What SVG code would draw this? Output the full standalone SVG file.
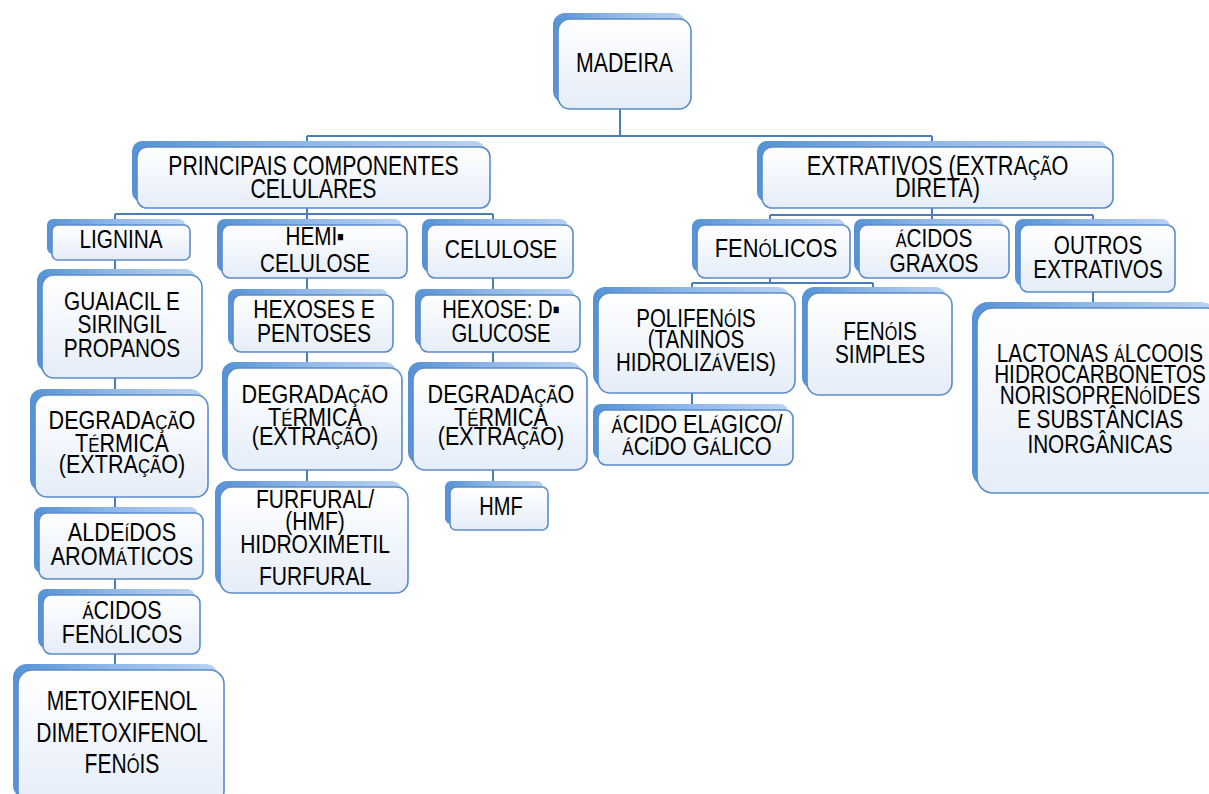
<svg xmlns="http://www.w3.org/2000/svg" width="1209" height="794" viewBox="0 0 1209 794">
<defs>
<linearGradient id="gb" x1="0" y1="0" x2="0" y2="1"><stop offset="0" stop-color="#ffffff"/><stop offset="1" stop-color="#e5edf9"/></linearGradient>
<linearGradient id="gs" x1="0" y1="0" x2="1" y2="0"><stop offset="0" stop-color="#5592d6"/><stop offset="0.45" stop-color="#8db6e8"/><stop offset="1" stop-color="#b8d2f1"/></linearGradient>
<style>
.sh{fill:url(#gs)}
.bx{fill:url(#gb);stroke:#5b8cc8;stroke-width:1.6}
text{font-family:"Liberation Sans",Arial,sans-serif;fill:#000;text-anchor:middle}
.f28 text{font-size:28px}
.f26 text{font-size:26px}
.f25 text{font-size:25px}
.sc{font-size:78%}
</style>
</defs>
<rect width="1209" height="794" fill="#ffffff"/>
<g id="connectors" fill="none" stroke="#4a7ebb" stroke-width="2">
<path d="M620 109V136M307 136H932M307 136V147M932 136V147"/>
<path d="M307 208V214M115 214H493M115 214V670M307 214V487M493 214V487"/>
<path d="M932 208V225M770 215H1093M770 215V283M1093 215V308"/>
<path d="M692 283H873M692 283V410M873 283V293"/>
</g>
<g id="n-madeira" class="f28">
<rect class="sh" x="553" y="13" width="133" height="90" rx="12"/>
<rect class="bx" x="558" y="19" width="133" height="90" rx="12"/>
<g transform="translate(624.5,0) scale(0.76,1)"><text x="0" y="72">MADEIRA</text></g>
</g>
<g id="n-principais" class="f28">
<rect class="sh" x="132" y="141" width="353" height="61" rx="10"/>
<rect class="bx" x="137" y="147" width="353" height="61" rx="10"/>
<g transform="translate(313.5,0) scale(0.757,1)">
<text x="0" y="175">PRINCIPAIS COMPONENTES</text>
<text x="0" y="198">CELULARES</text>
</g>
</g>
<g id="n-extrativos" class="f28">
<rect class="sh" x="757" y="141" width="351" height="61" rx="10"/>
<rect class="bx" x="762" y="147" width="351" height="61" rx="10"/>
<g transform="translate(937.5,0) scale(0.775,1)">
<text x="0" y="175">EXTRATIVOS (EXTRA<tspan class="sc">ÇÃ</tspan>O</text>
<text x="0" y="197">DIRETA)</text>
</g>
</g>
<g id="n-lignina" class="f26">
<rect class="sh" x="47" y="219" width="138" height="35" rx="6"/>
<rect class="bx" x="52" y="225" width="138" height="35" rx="6"/>
<g transform="translate(121,0) scale(0.8,1)"><text x="0" y="248">LIGNINA</text></g>
</g>
<g id="n-hemicelulose" class="f25">
<rect class="sh" x="217" y="219" width="185" height="53" rx="8"/>
<rect class="bx" x="222" y="225" width="185" height="53" rx="8"/>
<g transform="translate(315,0) scale(0.825,1)">
<text x="0" y="245">HEMI▪</text>
<text x="0" y="272">CELULOSE</text>
</g>
</g>
<g id="n-celulose" class="f26">
<rect class="sh" x="422" y="219" width="146" height="53" rx="8"/>
<rect class="bx" x="427" y="225" width="146" height="53" rx="8"/>
<g transform="translate(501,0) scale(0.81,1)"><text x="0" y="258">CELULOSE</text></g>
</g>
<g id="n-guaiacil" class="f26">
<rect class="sh" x="37" y="269" width="160" height="103" rx="12"/>
<rect class="bx" x="42" y="275" width="160" height="103" rx="12"/>
<g transform="translate(122,0) scale(0.8,1)">
<text x="0" y="310">GUAIACIL E</text>
<text x="0" y="333">SIRINGIL</text>
<text x="0" y="357">PROPANOS</text>
</g>
</g>
<g id="n-hexoses" class="f26">
<rect class="sh" x="228" y="289" width="160" height="57" rx="8"/>
<rect class="bx" x="233" y="295" width="160" height="57" rx="8"/>
<g transform="translate(314,0) scale(0.81,1)">
<text x="0" y="318">HEXOSES E</text>
<text x="0" y="342">PENTOSES</text>
</g>
</g>
<g id="n-hexose" class="f26">
<rect class="sh" x="415" y="289" width="160" height="57" rx="8"/>
<rect class="bx" x="420" y="295" width="160" height="57" rx="8"/>
<g transform="translate(501,0) scale(0.78,1)">
<text x="0" y="318">HEXOSE: D▪</text>
<text x="0" y="342">GLUCOSE</text>
</g>
</g>
<g id="n-degradacao-lignina" class="f26">
<rect class="sh" x="30" y="389" width="173" height="102" rx="12"/>
<rect class="bx" x="35" y="395" width="173" height="102" rx="12"/>
<g transform="translate(122,0) scale(0.83,1)">
<text x="0" y="429">DEGRADA<tspan class="sc">ÇÃ</tspan>O</text>
<text x="0" y="452">T<tspan class="sc">É</tspan>RMICA</text>
<text x="0" y="473">(EXTRA<tspan class="sc">ÇÃ</tspan>O)</text>
</g>
</g>
<g id="n-degradacao-hemi" class="f26">
<rect class="sh" x="222" y="362" width="175" height="102" rx="12"/>
<rect class="bx" x="227" y="368" width="175" height="102" rx="12"/>
<g transform="translate(315,0) scale(0.83,1)">
<text x="0" y="403">DEGRADA<tspan class="sc">ÇÃ</tspan>O</text>
<text x="0" y="426">T<tspan class="sc">É</tspan>RMICA</text>
<text x="0" y="445">(EXTRA<tspan class="sc">ÇÃ</tspan>O)</text>
</g>
</g>
<g id="n-degradacao-celulose" class="f26">
<rect class="sh" x="408" y="362" width="174" height="102" rx="12"/>
<rect class="bx" x="413" y="368" width="174" height="102" rx="12"/>
<g transform="translate(501,0) scale(0.83,1)">
<text x="0" y="403">DEGRADA<tspan class="sc">ÇÃ</tspan>O</text>
<text x="0" y="426">T<tspan class="sc">É</tspan>RMICA</text>
<text x="0" y="445">(EXTRA<tspan class="sc">ÇÃ</tspan>O)</text>
</g>
</g>
<g id="n-furfural" class="f26">
<rect class="sh" x="215" y="481" width="188" height="106" rx="12"/>
<rect class="bx" x="220" y="487" width="188" height="106" rx="12"/>
<g transform="translate(315,0) scale(0.81,1)">
<text x="0" y="508">FURFURAL/</text>
<text x="0" y="530">(HMF)</text>
<text x="0" y="553">HIDROXIMETIL</text>
<text x="0" y="585">FURFURAL</text>
</g>
</g>
<g id="n-hmf" class="f26">
<rect class="sh" x="445" y="481" width="98" height="43" rx="6"/>
<rect class="bx" x="450" y="487" width="98" height="43" rx="6"/>
<g transform="translate(501,0) scale(0.77,1)"><text x="0" y="515">HMF</text></g>
</g>
<g id="n-aldeidos" class="f26">
<rect class="sh" x="34" y="507" width="164" height="66" rx="8"/>
<rect class="bx" x="39" y="513" width="164" height="66" rx="8"/>
<g transform="translate(122,0) scale(0.835,1)">
<text x="0" y="541">ALDE<tspan class="sc">Í</tspan>DOS</text>
<text x="0" y="565">AROM<tspan class="sc">Á</tspan>TICOS</text>
</g>
</g>
<g id="n-acidos-fenolicos" class="f25">
<rect class="sh" x="38" y="589" width="157" height="59" rx="8"/>
<rect class="bx" x="43" y="595" width="157" height="59" rx="8"/>
<g transform="translate(122,0) scale(0.86,1)">
<text x="0" y="619"><tspan class="sc">Á</tspan>CIDOS</text>
<text x="0" y="643">FEN<tspan class="sc">Ó</tspan>LICOS</text>
</g>
</g>
<g id="n-metoxifenol" class="f28">
<rect class="sh" x="13" y="664" width="206" height="135" rx="14"/>
<rect class="bx" x="18" y="670" width="206" height="135" rx="14"/>
<g transform="translate(122,0) scale(0.752,1)">
<text x="0" y="710">METOXIFENOL</text>
<text x="0" y="742">DIMETOXIFENOL</text>
<text x="0" y="773">FEN<tspan class="sc">Ó</tspan>IS</text>
</g>
</g>
<g id="n-fenolicos" class="f26">
<rect class="sh" x="692" y="219" width="153" height="53" rx="8"/>
<rect class="bx" x="697" y="225" width="153" height="53" rx="8"/>
<g transform="translate(776,0) scale(0.84,1)"><text x="0" y="257">FEN<tspan class="sc">Ó</tspan>LICOS</text></g>
</g>
<g id="n-acidos-graxos" class="f26">
<rect class="sh" x="854" y="219" width="150" height="53" rx="8"/>
<rect class="bx" x="859" y="225" width="150" height="53" rx="8"/>
<g transform="translate(934,0) scale(0.8,1)">
<text x="0" y="247"><tspan class="sc">Á</tspan>CIDOS</text>
<text x="0" y="272">GRAXOS</text>
</g>
</g>
<g id="n-outros" class="f26">
<rect class="sh" x="1015" y="219" width="155" height="67" rx="8"/>
<rect class="bx" x="1020" y="225" width="155" height="67" rx="8"/>
<g transform="translate(1098,0) scale(0.795,1)">
<text x="0" y="254">OUTROS</text>
<text x="0" y="278">EXTRATIVOS</text>
</g>
</g>
<g id="n-polifenois" class="f25">
<rect class="sh" x="593" y="287" width="197" height="100" rx="12"/>
<rect class="bx" x="598" y="293" width="197" height="100" rx="12"/>
<g transform="translate(696,0) scale(0.82,1)">
<text x="0" y="327">POLIFEN<tspan class="sc">Ó</tspan>IS</text>
<text x="0" y="348">(TANINOS</text>
<text x="0" y="371">HIDROLIZ<tspan class="sc">Á</tspan>VEIS)</text>
</g>
</g>
<g id="n-fenois-simples" class="f25">
<rect class="sh" x="802" y="287" width="145" height="102" rx="12"/>
<rect class="bx" x="807" y="293" width="145" height="102" rx="12"/>
<g transform="translate(880,0) scale(0.83,1)">
<text x="0" y="340">FEN<tspan class="sc">Ó</tspan>IS</text>
<text x="0" y="363">SIMPLES</text>
</g>
</g>
<g id="n-acido-elagico" class="f25">
<rect class="sh" x="593" y="404" width="195" height="55" rx="8"/>
<rect class="bx" x="598" y="410" width="195" height="55" rx="8"/>
<g transform="translate(697,0) scale(0.87,1)">
<text x="0" y="433"><tspan class="sc">Á</tspan>CIDO EL<tspan class="sc">Á</tspan>GICO/</text>
<text x="0" y="455"><tspan class="sc">Á</tspan>C<tspan class="sc">Í</tspan>DO G<tspan class="sc">Á</tspan>LICO</text>
</g>
</g>
<g id="n-lactonas" class="f25">
<rect class="sh" x="972" y="302" width="245" height="185" rx="16"/>
<rect class="bx" x="977" y="308" width="245" height="185" rx="16"/>
<g transform="translate(1100,0) scale(0.83,1)">
<text x="0" y="362">LACTONAS <tspan class="sc">Á</tspan>LCOOIS</text>
<text x="0" y="383">HIDROCARBONETOS</text>
<text x="0" y="404">NORISOPREN<tspan class="sc">Ó</tspan>IDES</text>
<text x="0" y="428">E SUBST<tspan>Â</tspan>NCIAS</text>
<text x="0" y="453">INORG<tspan>Â</tspan>NICAS</text>
</g>
</g>
</svg>
